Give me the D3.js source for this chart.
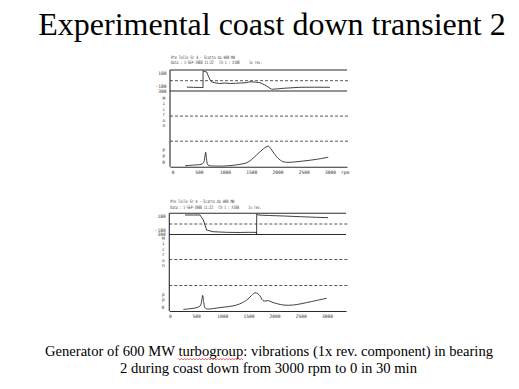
<!DOCTYPE html>
<html>
<head>
<meta charset="utf-8">
<script src="https://cdn.jsdelivr.net/npm/d3@7"></script>
<style>
  body { margin: 0; background: #fff; }
  svg { display: block; }
</style>
</head>
<body>
<div id="chart"></div>
<script>
// texts
var titleText = "Experimental coast down transient 2";
var captionLines = [
  "Generator of 600 MW turbogroup: vibrations (1x rev. component) in bearing",
  "2 during coast down from 3000 rpm to 0 in 30 min"
];
var headerTitle = "Pte Tolle Gr 4 - Scatto da 400 MW";
var headerInfo = "Data : 1-SEP-1988 11:22   Ch 1 : X108     1x rev.";
var unitLetters = ["M", "i", "c", "r", "o", "n"];
var ppLetters = ["p", "p"];

// axis ticks
var rpmTicks = [0, 500, 1000, 1500, 2000, 2500, 3000];
var phaseTicks = [180, -180];
var ampTicks = [300, 0];
var phaseGrid = [0];
var ampGrid = [100, 200];

// first transient: amplitude (micron pp) and phase (deg) vs rpm
var amp1Rpm = [235, 400, 540, 590, 612, 629, 645, 665, 690, 807, 978, 1150, 1283, 1400, 1474, 1601, 1727, 1823, 1888, 1983, 2079, 2174, 2490, 2750, 2967];
var amp1Val = [2, 5, 8, 14, 35, 56, 30, 8, 3, 1, 1, 4, 8, 13, 22, 45, 69, 80, 65, 38, 21, 16, 21, 28, 36];
var ph1Rpm = [270, 400, 520, 575, 578, 580, 600, 650, 680, 715, 749, 800, 900, 1000, 1100, 1200, 1300, 1400, 1474, 1580, 1665, 1760, 1888, 2000, 2103, 2250, 2428, 2700, 2999];
var ph1Val = [-125, -130, -132, -135, -140, 195, 182, 170, 90, 14, -25, -40, -55, -45, -55, -50, -45, -40, -20, -28, -39, -84, -168, -160, -149, -140, -129, -127, -129];

// second transient
var amp2Rpm = [254, 400, 510, 580, 605, 625, 645, 670, 700, 956, 1275, 1467, 1560, 1625, 1680, 1721, 1760, 1800, 1880, 1950, 2166, 2358, 2700, 2996];
var amp2Val = [8, 11, 15, 22, 40, 62, 35, 14, 10, 15, 25, 44, 62, 72, 68, 60, 46, 40, 42, 36, 25, 25, 38, 51];
var ph2Rpm = [287, 450, 574, 637, 702, 822, 1084, 1300, 1500, 1650, 1656, 1658, 1683, 1900, 2161, 2500, 2805, 3021];
var ph2Val = [175, 175, 175, 78, -117, -150, -162, -165, -162, -163, -195, 195, 175, 165, 156, 142, 130, 123];

var svg = d3.select("#chart").append("svg")
    .attr("width", 519)
    .attr("height", 389);

var defs = svg.append("defs");
var serif = "'Liberation Serif', 'Times New Roman', serif";
var mono = "'DejaVu Sans Mono', monospace";
var ink = "#2b2b2b";

// title
svg.append("text")
    .attr("x", 272).attr("y", 35)
    .attr("text-anchor", "middle")
    .style("font-family", serif)
    .style("font-size", "32px")
    .text(titleText);

// panel layouts (pixel placement of each scanned plot)
var panel1 = {xd: [-51, 3325], xr: [170, 347], top: 70, mid: 91, base: 166.7,
  amp: [166.3, 91], ph: [89.9, 71.5], h1: 58.5, h2: 64, micron: 100, rpmLabel: true};
var panel2 = {xd: [-13, 3365], xr: [169.3, 346], top: 213.3, mid: 234.5, base: 311,
  amp: [311.5, 233.5], ph: [233.25, 214.75], h1: 203, h2: 208.5, micron: 240, rpmLabel: false};

function smallText(g, x, y, txt, anchor, len) {
  var t = g.append("text")
      .attr("x", x).attr("y", y)
      .attr("text-anchor", anchor || "start")
      .style("font-family", mono)
      .style("font-size", "4.6px")
      .attr("fill", "#333")
      .style("white-space", "pre")
      .text(txt);
  if (len) t.attr("textLength", len).attr("lengthAdjust", "spacingAndGlyphs");
  return t;
}

function drawPanel(p, id, ampRpm, ampVal, phRpm, phVal) {
  var g = svg.append("g");
  var x = d3.scaleLinear().domain(p.xd).range(p.xr);
  var yAmp = d3.scaleLinear().domain([0, 300]).range(p.amp);
  var yPh = d3.scaleLinear().domain([-180, 180]).range(p.ph);
  var x0 = p.xr[0], x1 = p.xr[1];

  // clip areas
  defs.append("clipPath").attr("id", "ph" + id)
    .append("rect").attr("x", x0).attr("y", p.top).attr("width", x1 - x0).attr("height", p.mid - p.top);
  defs.append("clipPath").attr("id", "amp" + id)
    .append("rect").attr("x", x0).attr("y", p.mid).attr("width", x1 - x0).attr("height", p.base - p.mid);

  // header
  smallText(g, x0 + 1, p.h1, headerTitle, "start", 64);
  smallText(g, x0 + 1, p.h2, headerInfo, "start", 91);

  // dashed reference lines
  g.selectAll(".phgrid").data(phaseGrid).enter().append("line")
      .attr("x1", x0).attr("x2", x1 + 3)
      .attr("y1", function(d) { return yPh(d); })
      .attr("y2", function(d) { return yPh(d); })
      .attr("stroke", ink).attr("stroke-width", 0.8).attr("stroke-dasharray", "3,2");
  g.selectAll(".ampgrid").data(ampGrid).enter().append("line")
      .attr("x1", x0).attr("x2", x1 + 3)
      .attr("y1", function(d) { return yAmp(d); })
      .attr("y2", function(d) { return yAmp(d); })
      .attr("stroke", ink).attr("stroke-width", 0.8).attr("stroke-dasharray", "3,2");

  // frame: phase box top / bottom and left axis
  g.append("line").attr("x1", x0).attr("x2", x1).attr("y1", p.top).attr("y2", p.top)
      .attr("stroke", ink).attr("stroke-width", 1.1);
  g.append("line").attr("x1", x0).attr("x2", x1).attr("y1", p.mid).attr("y2", p.mid)
      .attr("stroke", ink).attr("stroke-width", 1.1);
  g.append("line").attr("x1", x0).attr("x2", x0).attr("y1", p.top).attr("y2", p.base)
      .attr("stroke", ink).attr("stroke-width", 1.1);

  // rpm axis
  var ax = g.append("g")
      .attr("transform", "translate(0," + p.base + ")")
      .call(d3.axisBottom(x).tickValues(rpmTicks).tickSize(0).tickPadding(4).tickFormat(d3.format("d")));
  ax.select(".domain").attr("stroke", ink).attr("stroke-width", 1.1);
  ax.selectAll("text").style("font-family", mono).style("font-size", "4.6px").attr("fill", "#333");
  if (p.rpmLabel) smallText(g, x1 - 6, p.base + 7, "rpm", "start");

  // left labels
  smallText(g, x0 - 3.5, yPh(180) + 3.5, String(phaseTicks[0]), "end");
  smallText(g, x0 - 3.5, yPh(-180) - 1.5, String(phaseTicks[1]), "end");
  smallText(g, x0 - 3.5, yAmp(300) + 2.4, String(ampTicks[0]), "end");
  smallText(g, x0 - 5, yAmp(0) - 2.5, String(ampTicks[1]), "end");
  unitLetters.forEach(function(c, i) {
    smallText(g, x0 - 6, p.micron + i * 5.4, c, "middle");
  });
  ppLetters.forEach(function(c, i) {
    smallText(g, x0 - 6, p.base - 15.5 + i * 5.8, c, "middle");
  });

  // curves
  var ampLine = d3.line()
      .curve(d3.curveCatmullRom.alpha(0.5))
      .x(function(d) { return x(d[0]); })
      .y(function(d) { return yAmp(d[1]); });
  var phLine = d3.line()
      .x(function(d) { return x(d[0]); })
      .y(function(d) { return yPh(d[1]); });

  g.append("path")
      .datum(d3.zip(ampRpm, ampVal))
      .attr("clip-path", "url(#amp" + id + ")")
      .attr("fill", "none").attr("stroke", ink).attr("stroke-width", 0.9)
      .attr("stroke-linejoin", "round")
      .attr("d", ampLine);
  g.append("path")
      .datum(d3.zip(phRpm, phVal))
      .attr("clip-path", "url(#ph" + id + ")")
      .attr("fill", "none").attr("stroke", ink).attr("stroke-width", 0.9)
      .attr("stroke-linejoin", "round")
      .attr("d", phLine);
}

drawPanel(panel1, 1, amp1Rpm, amp1Val, ph1Rpm, ph1Val);
drawPanel(panel2, 2, amp2Rpm, amp2Val, ph2Rpm, ph2Val);

// caption
var cap1 = svg.append("text")
    .attr("x", 269).attr("y", 356)
    .attr("text-anchor", "middle")
    .attr("textLength", 448).attr("lengthAdjust", "spacingAndGlyphs")
    .style("font-family", serif).style("font-size", "14px")
    .text(captionLines[0]);
svg.append("text")
    .attr("x", 268.5).attr("y", 373)
    .attr("text-anchor", "middle")
    .attr("textLength", 297).attr("lengthAdjust", "spacingAndGlyphs")
    .style("font-family", serif).style("font-size", "14px")
    .text(captionLines[1]);

// spell-check squiggle under "turbogroup"
var node = cap1.node();
var wi = captionLines[0].indexOf("turbogroup");
var sx = node.getStartPositionOfChar(wi).x;
var ex = node.getEndPositionOfChar(wi + 9).x;
var pts = [];
for (var px = sx, k = 0; px <= ex; px += 1.5, k++) pts.push([px, 359 + (k % 2 ? 0.8 : -0.4)]);
svg.append("path")
    .attr("d", d3.line()(pts))
    .attr("fill", "none").attr("stroke", "#d22").attr("stroke-width", 0.7);
</script>
</body>
</html>
